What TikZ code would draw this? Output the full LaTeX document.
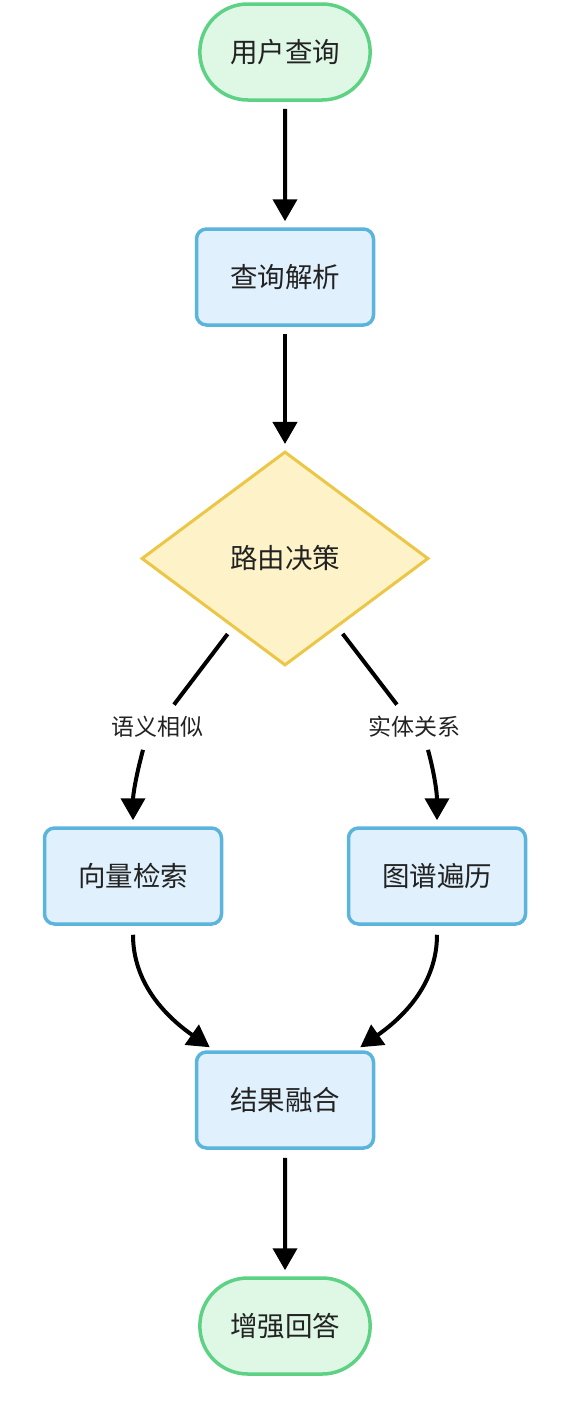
\documentclass[tikz,border=0pt]{standalone}
\usepackage{fontspec}
\newfontfamily\cjk{Noto Sans CJK SC}
\usetikzlibrary{arrows.meta,shapes.geometric,shapes.misc}
\definecolor{gborder}{HTML}{5ED284}
\definecolor{gfill}{HTML}{DFF8E5}
\definecolor{bborder}{HTML}{5AB4DC}
\definecolor{bfill}{HTML}{E0F0FC}
\definecolor{yborder}{HTML}{ECC646}
\definecolor{yfill}{HTML}{FDF2C8}
\definecolor{txt}{HTML}{222222}
\tikzset{
  terminal/.style={rounded rectangle, draw=gborder, fill=gfill, line width=3.5pt,
    minimum width=177pt, minimum height=96pt, font=\cjk\fontsize{27.5}{30}\selectfont, text=txt},
  procbox/.style={rectangle, rounded corners=10pt, draw=bborder, fill=bfill, line width=3.5pt,
    minimum width=177pt, minimum height=96pt, font=\cjk\fontsize{27.5}{30}\selectfont, text=txt},
  decision/.style={diamond, draw=yborder, fill=yfill, line width=3pt, inner sep=0pt,
    minimum width=287pt, minimum height=214pt, font=\cjk\fontsize{27.5}{30}\selectfont, text=txt},
  elabel/.style={font=\cjk\fontsize{23}{26}\selectfont, text=txt, inner sep=2pt},
  conn/.style={line width=4pt, black},
  arrowconn/.style={conn, -{Triangle[width=24pt,length=22pt]}},
}
\begin{document}
\begin{tikzpicture}[x=1pt,y=-1pt]
\useasboundingbox (0,0) rectangle (570,1419);
\node[terminal] (q) at (285,52) {用户查询};
\node[procbox] (p) at (285,277) {查询解析};
\node[decision] (d) at (285,558.5) {路由决策};
\node[elabel] (l1) at (157,727) {语义相似};
\node[elabel] (l2) at (414,727) {实体关系};
\node[procbox] (v) at (133,876) {向量检索};
\node[procbox] (g) at (437,876) {图谱遍历};
\node[procbox] (f) at (285,1100) {结果融合};
\node[terminal] (a) at (285,1326) {增强回答};

\draw[arrowconn, shorten <=7pt, shorten >=6pt] (q) -- (p);
\draw[arrowconn, shorten <=7pt, shorten >=6pt] (p) -- (d);
\draw[conn, shorten <=8pt, shorten >=12pt] (d) -- (l1);
\draw[conn, shorten <=8pt, shorten >=12pt] (d) -- (l2);
\draw[arrowconn, shorten >=6pt] ([xshift=-14pt,yshift=-10pt]l1.south) to[out=-105,in=90] (v.north);
\draw[arrowconn, shorten >=6pt] ([xshift=14pt,yshift=-10pt]l2.south) to[out=-75,in=90] (g.north);
\draw[arrowconn, shorten <=9pt, shorten >=0pt] (v.south) to[out=-90,in=145] ([xshift=15pt,yshift=3pt]f.north west);
\draw[arrowconn, shorten <=9pt, shorten >=0pt] (g.south) to[out=-90,in=35] ([xshift=-15pt,yshift=3pt]f.north east);
\draw[arrowconn, shorten <=8pt, shorten >=6pt] (f) -- (a);
\end{tikzpicture}
\end{document}
